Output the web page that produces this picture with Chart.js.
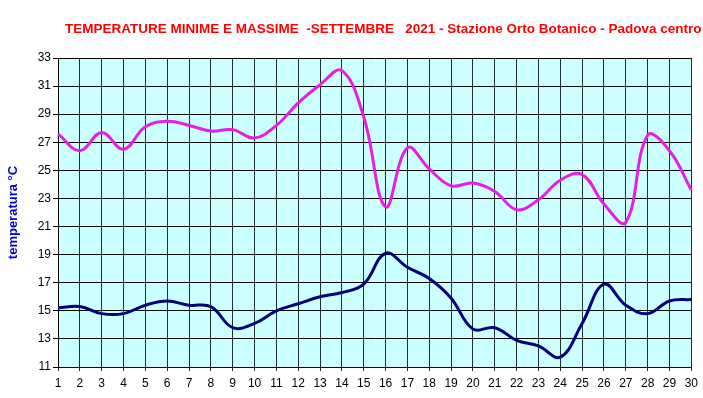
<!DOCTYPE html>
<html lang="it">
<head>
  <meta charset="UTF-8">
  <title>Temperature minime e massime - Settembre 2021</title>
  <script src="https://cdn.jsdelivr.net/npm/chart.js"></script>
  <style>
    body { margin: 0; background: #fff; }
    canvas { display: block; }
  </style>
</head>
<body>
  <canvas id="tempChart" width="703" height="398"></canvas>

  <script>
    // giorni del mese
    const days = ['1','2','3','4','5','6','7','8','9','10','11','12','13','14','15',
                  '16','17','18','19','20','21','22','23','24','25','26','27','28','29','30'];

    // temperature massime (°C)
    const tMax = [27.6, 26.4, 27.7, 26.5, 28.1, 28.5, 28.2, 27.8, 27.9, 27.3,
                  28.2, 29.8, 31.1, 32.1, 28.8, 22.4, 26.6, 25.1, 23.9, 24.1,
                  23.5, 22.2, 22.9, 24.3, 24.7, 22.6, 21.3, 27.5, 26.4, 23.6];

    // temperature minime (°C)
    const tMin = [15.2, 15.3, 14.8, 14.8, 15.4, 15.7, 15.4, 15.3, 13.8, 14.1,
                  15.0, 15.5, 16.0, 16.3, 16.9, 19.1, 18.1, 17.3, 15.9, 13.7,
                  13.8, 12.9, 12.5, 11.7, 14.1, 16.9, 15.4, 14.8, 15.7, 15.8];

    const yMin = 11;
    const yMax = 33;

    const titleText = 'TEMPERATURE MINIME E MASSIME  -SETTEMBRE   2021 - Stazione Orto Botanico - Padova centro';

    // sfondo azzurro dell'area del grafico + titolo
    const plotBg = {
      id: 'plotBg',
      beforeDraw(chart) {
        const { ctx, chartArea: a } = chart;
        ctx.save();
        ctx.fillStyle = '#CCFFFF';
        ctx.fillRect(a.left, a.top, a.right - a.left, a.bottom - a.top);
        ctx.restore();
      },
      afterDraw(chart) {
        const ctx = chart.ctx;
        ctx.save();
        ctx.fillStyle = '#FF0000';
        ctx.font = 'bold 13.5px Arial, "Liberation Sans", sans-serif';
        ctx.textAlign = 'left';
        ctx.textBaseline = 'middle';
        ctx.fillText(titleText, 65, 29);
        ctx.restore();
      }
    };

    const ctx = document.getElementById('tempChart').getContext('2d');
    new Chart(ctx, {
      type: 'line',
      data: {
        labels: days,
        datasets: [
          {
            label: 'Massime',
            data: tMax,
            borderColor: '#E61EE6',
            borderWidth: 3,
            pointRadius: 0,
            tension: 0.4,
            fill: false
          },
          {
            label: 'Minime',
            data: tMin,
            borderColor: '#00007A',
            borderWidth: 3,
            pointRadius: 0,
            tension: 0.4,
            fill: false
          }
        ]
      },
      options: {
        responsive: false,
        animation: false,
        layout: { padding: { left: 0, right: 10, top: 58, bottom: 0 } },
        plugins: {
          legend: { display: false },
          tooltip: { enabled: false },
          title: { display: false }
        },
        scales: {
          x: {
            offset: false,
            grid: { color: '#1e3030', lineWidth: 1, tickLength: 4, drawTicks: true },
            border: { color: '#000', width: 1 },
            ticks: {
              color: '#000',
              font: { family: 'Arial, "Liberation Sans", sans-serif', size: 12 },
              padding: 5,
              maxRotation: 0,
              autoSkip: false
            },
            afterFit(scale) { scale.height = 31; }
          },
          y: {
            min: yMin,
            max: yMax,
            grid: { color: '#000', lineWidth: 1, tickLength: 5 },
            border: { color: '#000', width: 1 },
            ticks: {
              stepSize: 1,
              color: '#000',
              font: { family: 'Arial, "Liberation Sans", sans-serif', size: 12 },
              padding: 2,
              callback: (v) => (v % 2 === 1 ? v : '')
            },
            title: {
              display: true,
              text: 'temperatura °C',
              color: '#0000CC',
              font: { family: 'Arial, "Liberation Sans", sans-serif', size: 13, weight: 'bold' },
              padding: { top: 6, bottom: 0 }
            },
            afterFit(scale) { scale.width = 58; }
          }
        }
      },
      plugins: [plotBg]
    });
  </script>
</body>
</html>
